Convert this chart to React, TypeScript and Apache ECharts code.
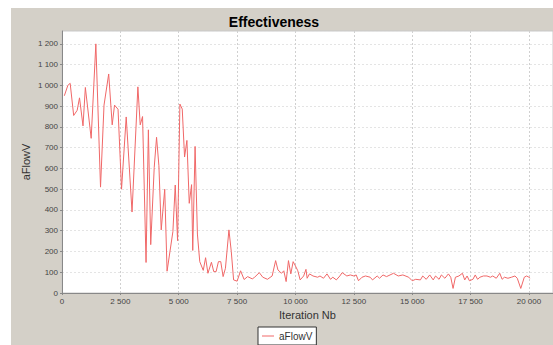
import React, { useEffect, useRef } from "react";
import * as echarts from "echarts";

const seriesName = "aFlowV";
const iterations = [
  100, 250, 350, 500, 650, 750, 900, 1000, 1250, 1450, 1650, 1800, 2000, 2150, 2250, 2400, 2550, 2750, 3000, 3250,
  3350, 3450, 3600, 3700, 3800, 3950, 4050, 4150, 4250, 4400, 4500, 4750, 4850, 4950, 5050, 5150, 5250, 5350, 5450, 5550,
  5600, 5700, 5800, 5900, 6050, 6150, 6250, 6400, 6500, 6600, 6700, 6800, 6900, 7000, 7150, 7250, 7350, 7500, 7650, 7800,
  7950, 8150, 8250, 8450, 8600, 8800, 9000, 9150, 9250, 9400, 9500, 9600, 9700, 9800, 9900, 10000, 10100, 10200, 10350, 10450,
  10500, 10600, 10750, 10950, 11050, 11200, 11350, 11500, 11600, 11750, 11900, 12000, 12200, 12350, 12500, 12600, 12700, 12850, 13000, 13200,
  13300, 13500, 13600, 13750, 13900, 14050, 14200, 14400, 14600, 14850, 15000, 15150, 15350, 15450, 15600, 15750, 15900, 16000, 16150, 16250,
  16400, 16550, 16650, 16750, 16850, 17000, 17150, 17250, 17350, 17450, 17600, 17700, 17800, 17900, 18050, 18200, 18350, 18450, 18600, 18750,
  18850, 18950, 19100, 19250, 19400, 19500, 19650, 19800, 19900, 20000, 20050,
];
const values = [
  950, 1000, 1010, 855, 880, 940, 805, 990, 745, 1200, 510, 905, 1055, 810, 905, 885, 500, 848, 390, 993,
  810, 850, 147, 786, 233, 605, 750, 613, 304, 500, 105, 296, 520, 252, 910, 886, 655, 735, 432, 522,
  205, 706, 284, 151, 109, 170, 95, 148, 103, 103, 151, 151, 79, 119, 304, 200, 63, 57, 107, 65,
  79, 68, 76, 98, 76, 66, 82, 156, 111, 95, 107, 55, 156, 92, 151, 130, 107, 63, 82, 114,
  71, 92, 82, 76, 82, 71, 92, 66, 76, 63, 82, 98, 82, 87, 82, 87, 59, 76, 82, 76,
  63, 82, 71, 87, 79, 87, 95, 82, 87, 76, 59, 66, 63, 82, 66, 87, 63, 82, 66, 87,
  71, 92, 76, 22, 76, 82, 95, 63, 82, 59, 66, 87, 66, 76, 82, 82, 76, 82, 71, 95,
  66, 76, 71, 76, 82, 71, 22, 76, 82, 76, 71,
];

const fmt = (v: number) => String(Math.round(v)).replace(/\B(?=(\d{3})+(?!\d))/g, " ");

export default function App() {
  const ref = useRef<HTMLDivElement>(null);
  useEffect(() => {
    if (!ref.current) return;
    const chart = echarts.init(ref.current, null, { renderer: "svg" });
    const font = "Liberation Sans, Arial, sans-serif";
    const lineColor = "#f06868";
    chart.setOption({
      animation: false,
      textStyle: { fontFamily: font },
      title: {
        text: "Effectiveness",
        left: 269,
        top: 10,
        textAlign: "center",
        textStyle: { fontSize: 14, fontWeight: "bold", color: "#000", fontFamily: font },
      },
      legend: {
        left: 258,
        top: 327,
        padding: [4, 4, 4, 4],
        backgroundColor: "#fff",
        borderColor: "#333",
        borderWidth: 1,
        borderRadius: 0,
        itemWidth: 12,
        itemHeight: 1,
        itemGap: 4,
        textStyle: { fontSize: 10, color: "#333", fontFamily: font },
        data: [{ name: seriesName, icon: "rect" }],
      },
      grid: {
        left: 62,
        top: 31,
        right: 0,
        bottom: 52,
        show: true,
        backgroundColor: "#fff",
        borderColor: "#c8c8c8",
        borderWidth: 1,
      },
      xAxis: {
        type: "value",
        min: 0,
        max: 21030,
        interval: 2500,
        name: "Iteration Nb",
        nameLocation: "middle",
        nameGap: 16,
        nameTextStyle: { fontSize: 11, color: "#333" },
        axisLine: { show: true, lineStyle: { color: "#888" } },
        axisTick: { show: true, length: 2, lineStyle: { color: "#888" } },
        axisLabel: { fontSize: 8, color: "#444", margin: 4, formatter: fmt, showMaxLabel: false },
        splitLine: { show: true, lineStyle: { color: "#d0d0d0", type: [2, 2] } },
      },
      yAxis: {
        type: "value",
        min: 0,
        max: 1262,
        interval: 100,
        name: "aFlowV",
        nameLocation: "middle",
        nameGap: 31,
        nameMoveOverlap: false,
        nameTextStyle: { fontSize: 11, color: "#333" },
        axisLine: { show: true, lineStyle: { color: "#888" } },
        axisTick: { show: true, length: 2, lineStyle: { color: "#888" } },
        axisLabel: { fontSize: 8, color: "#444", margin: 4, formatter: fmt, showMaxLabel: false },
        splitLine: { show: true, lineStyle: { color: "#e4e4e4", type: [2, 2] } },
      },
      series: [
        {
          name: seriesName,
          type: "line",
          symbol: "none",
          data: iterations.map((it, i) => [it, values[i]]),
          lineStyle: { color: lineColor, width: 1 },
          itemStyle: { color: lineColor },
        },
      ],
    });
    return () => chart.dispose();
  }, []);
  return (
    <div style={{ position: "fixed", left: 0, top: 0, width: 553, height: 345, background: "#fff", overflow: "hidden" }}>
      <div style={{ position: "absolute", left: 11, top: 8, right: 0, bottom: 0, background: "#d4d0c8" }} />
      <div ref={ref} style={{ position: "absolute", left: 0, top: 0, width: 553, height: 345 }} />
    </div>
  );
}
